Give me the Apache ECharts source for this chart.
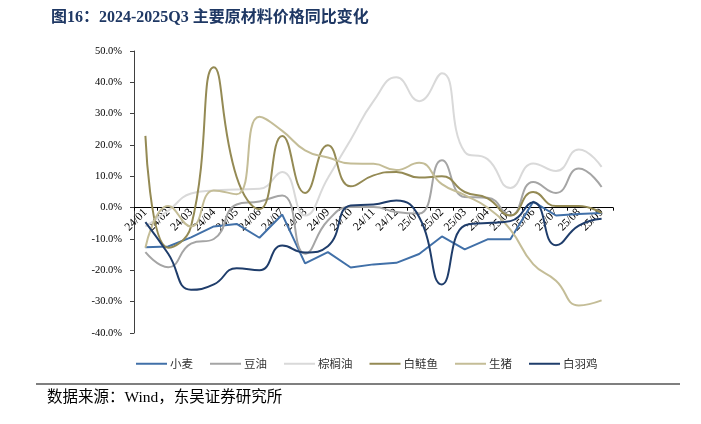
<!DOCTYPE html>
<html>
<head>
<meta charset="utf-8">
<script src="https://cdn.jsdelivr.net/npm/echarts@6/dist/echarts.min.js"></script>
<style>
html,body{margin:0;padding:0;background:#fff;}
#c{width:701px;height:424px;}
</style>
</head>
<body>
<div id="c"></div>
<script>
const categories = ['24/01','24/02','24/03','24/04','24/05','24/06','24/07','24/08','24/09','24/10','24/11','24/12','25/01','25/02','25/03','25/04','25/05','25/06','25/07','25/08','25/09'];
const wheat   = [-12.6,-12.4,-9.5,-6.0,-5.2,-9.6,-2.2,-17.8,-14.2,-19.1,-18.1,-17.6,-14.8,-9.2,-13.3,-10.1,-10.1,1.9,-2.5,-2.0,-1.7];
const soyOil  = [-14.2,-19.0,-11.5,-10.0,1.0,2.0,3.9,-14.7,-4.1,0.2,0.2,-1.4,-1.9,15.1,3.4,3.2,-2.5,8.2,4.7,12.5,6.6];
const palmOil = [-6.0,-1.0,4.5,5.5,5.8,6.0,11.4,-2.5,9.5,21.7,34.0,41.6,34.0,42.9,17.8,15.5,6.3,14.1,11.7,18.6,13.0];
const carp    = [22.9,-12.8,-6.0,44.8,9.8,-0.5,22.9,4.7,19.9,6.8,10.3,11.4,9.6,10.0,5.0,3.0,-2.5,5.0,0.5,0.5,-1.7];
const hog     = [-12.8,0.5,-6.0,5.5,4.3,29.0,24.5,18.3,16.0,14.1,14.0,12.0,14.3,7.5,4.0,0.0,-7.0,-18.0,-23.3,-31.2,-29.6];
const broiler = [-4.6,-14.7,-26.2,-24.5,-19.3,-20.0,-12.1,-14.3,-12.3,0.7,1.0,2.3,-3.0,-24.5,-5.7,-4.9,-4.3,1.7,-12.0,-5.7,-3.5];
const seriesNames = ['小麦','豆油','棕榈油','白鲢鱼','生猪','白羽鸡'];
const yTicks = {min:-40, max:50, interval:10};

const colors = ['#4170A8','#A5A5A5','#D9D9D9','#948A54','#C4BD97','#1F3D6B'];
const dataSets = [wheat, soyOil, palmOil, carp, hog, broiler];
const smoothFlags = [false, true, true, true, true, true];

const W = 701, H = 424;
const gridTop = 51, gridBottom = 91;
const gridH = H - gridTop - gridBottom;
const zeroOffset = gridH * (-yTicks.min) / (yTicks.max - yTicks.min);

const chart = echarts.init(document.getElementById('c'), null, {renderer:'canvas'});
const serif = '"Liberation Serif","Times New Roman","Noto Sans CJK SC",serif';
const option = {
  animation:false,
  backgroundColor:'#fff',
  color: colors,
  title:{
    text:'图16：2024-2025Q3 主要原材料价格同比变化',
    left:46, top:5,
    textStyle:{fontFamily:serif, fontWeight:'bold', fontSize:16, color:'#1F3864'}
  },
  legend:{
    left:131, top:353,
    icon:'rect', itemWidth:31, itemHeight:2, itemGap:17,
    textStyle:{fontFamily:'"Noto Sans CJK SC",sans-serif', fontSize:11.5, color:'#333', padding:[0,0,0,-2]},
    data: seriesNames
  },
  grid:{left:134, right:88, top:gridTop, bottom:gridBottom, containLabel:false},
  xAxis:{
    type:'category', data:categories, boundaryGap:true,
    offset: -zeroOffset,
    axisLine:{onZero:false, lineStyle:{color:'#000', width:1}},
    axisTick:{show:true, alignWithLabel:false, length:3, lineStyle:{color:'#000'}},
    axisLabel:{rotate:45, interval:0, margin:3, fontFamily:serif, fontSize:11.5, color:'#000'},
    splitLine:{show:false}
  },
  yAxis:{
    type:'value', min:yTicks.min, max:yTicks.max, interval:yTicks.interval,
    axisLine:{show:true, lineStyle:{color:'#404040', width:1}},
    axisTick:{show:true, length:4, lineStyle:{color:'#404040'}},
    axisLabel:{margin:12, fontFamily:serif, fontSize:10.5, color:'#000', formatter:v=>v.toFixed(1)+'%'},
    splitLine:{show:false}
  },
  series: seriesNames.map((n,i)=>({
    name:n, type:'line', data:dataSets[i], smooth:smoothFlags[i]?0.5:false,
    symbol:'none', lineStyle:{width:2, color:colors[i]}, itemStyle:{color:colors[i]}
  })),
  graphic:[
    {type:'line', shape:{x1:36, y1:384, x2:680, y2:384}, style:{stroke:'#000', lineWidth:1.2}},
    {type:'text', left:47, top:390, style:{text:'数据来源：Wind，东吴证券研究所', font:'15.5px '+serif, fill:'#000'}}
  ]
};
chart.setOption(option);
</script>
</body>
</html>
